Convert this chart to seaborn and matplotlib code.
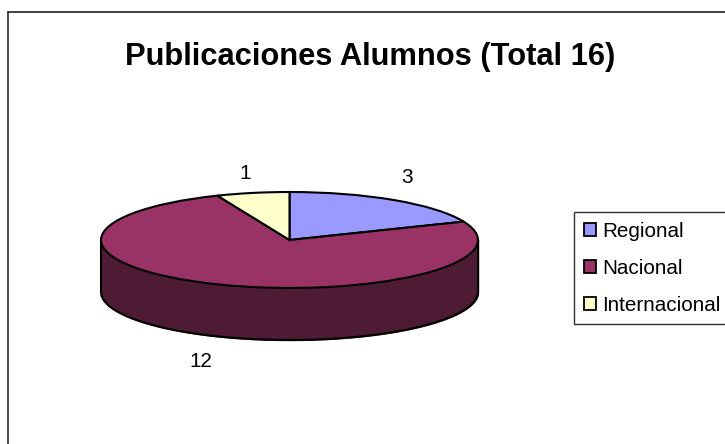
import matplotlib
matplotlib.use("Agg")
import matplotlib.pyplot as plt
import seaborn as sns
import numpy as np
from matplotlib.lines import Line2D
from matplotlib.patches import Patch

# Publicaciones alumnos
categories = ["Regional", "Nacional", "Internacional"]
values = [3, 12, 1]
colors = ["#9999FF", "#993366", "#FFFFCC"]
side_color = "#4D1B33"
title = "Publicaciones Alumnos (Total 16)"

W, H = 725, 444

sns.set_theme(style="white", palette=colors)
plt.rcParams["font.family"] = ["Liberation Sans", "DejaVu Sans"]

fig = plt.figure(figsize=(W / 100, H / 100), dpi=100)

# axes box is the top ellipse of the pie, in pixels of the picture
left, right, top, bottom = 101, 478, 192, 288
ax = fig.add_axes([left / W, 1 - bottom / H, (right - left) / W, (bottom - top) / H])

wedges, _ = ax.pie(values, colors=sns.color_palette(), startangle=90, counterclock=False,
                   wedgeprops={"edgecolor": "black", "linewidth": 1.5, "clip_on": False, "zorder": 3})
ax.set_aspect("auto")
ax.set_xlim(-1, 1)
ax.set_ylim(-1, 1)
ax.axis("off")

# side of the pie, front half only
depth = 52 / 48
t = np.linspace(np.pi, 2 * np.pi, 200)
ax.fill_between(np.cos(t), np.sin(t), np.sin(t) - depth, color=side_color, clip_on=False, zorder=1)
ax.plot(np.cos(t), np.sin(t) - depth, color="black", lw=1.5, clip_on=False, zorder=2)
ax.plot([-1, -1], [0, -depth], color="black", lw=1.5, clip_on=False, zorder=2)
ax.plot([1, 1], [0, -depth], color="black", lw=1.5, clip_on=False, zorder=2)

# chart frame, runs off the picture on right and bottom
fig.add_artist(Line2D([8 / W, 8 / W], [0, 1 - 12 / H], color="#303030", lw=1.2))
fig.add_artist(Line2D([8 / W, 1], [1 - 12 / H, 1 - 12 / H], color="#202020", lw=1.2))

fig.text(370 / W, 1 - 57 / H, title, ha="center", va="center", fontsize=22.2, fontweight="bold", color="black")

# data labels
label_pos = [(407, 177), (201, 361), (245, 173)]
for val, (px, py) in zip(values, label_pos):
    fig.text(px / W, 1 - py / H, str(val), ha="center", va="center", fontsize=14.9, color="black")

handles = [Patch(facecolor=c, edgecolor="black", linewidth=1.3) for c in colors]
leg = fig.legend(handles, categories, loc="upper left", bbox_to_anchor=(574 / W, 1 - 212 / H),
                 bbox_transform=fig.transFigure, borderaxespad=0, fontsize=14.9, frameon=True,
                 fancybox=False, framealpha=1, edgecolor="#303030", handlelength=0.6,
                 handleheight=0.65, handletextpad=0.3, labelspacing=0.87, borderpad=0.47,
                 labelcolor="black")
leg.get_frame().set_linewidth(1.0)

fig.savefig("out.png", dpi=100, facecolor="white")
